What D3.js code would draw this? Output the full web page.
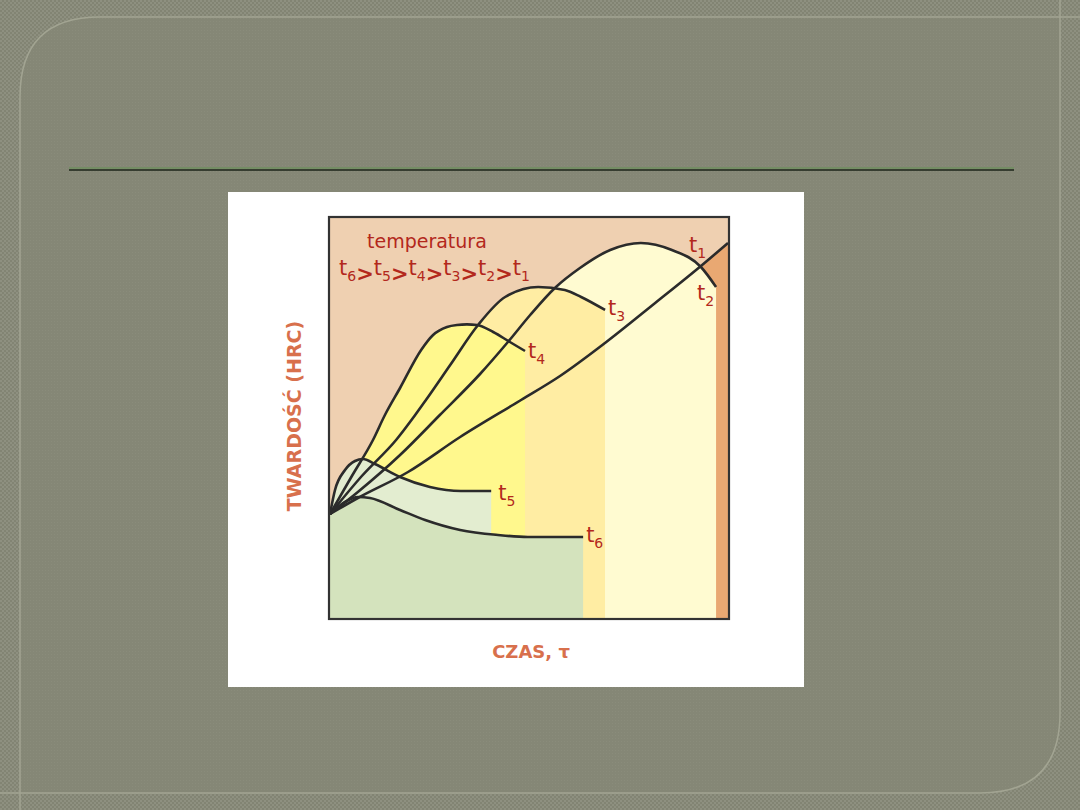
<!DOCTYPE html>
<html><head><meta charset="utf-8">
<script src="https://cdn.jsdelivr.net/npm/d3@7/dist/d3.min.js"></script>
<style>html,body{margin:0;padding:0;background:#858776;}svg{display:block;}</style>
</head><body>
<svg id="c" width="1080" height="810"></svg>
<script>
// ---- data (time in % of axis, hardness in % of axis) ----
const seriesNames = ["t1","t2","t3","t4","t5","t6"];
const t1 = [[0,26],[7.0,30],[19.6,36.5],[32.7,45.25],[48.0,54.5],[57.8,60.5],[69.1,68.75],[81.7,78.75],[93.2,88],[100,93.75]];
const t2 = [[0,26],[7.0,31.5],[17.6,40.75],[27.6,50.75],[37.7,61],[44.7,69],[50.3,75.75],[56.5,82.5],[62.8,87.5],[70.4,92],[78.1,93.75],[85.9,92],[93.2,87.75],[97.0,82.75]];
const t3 = [[0,26],[8.0,35.5],[16.6,44.5],[21.4,50.75],[24.1,54.5],[30.2,63.25],[37.2,73.25],[44.0,80.25],[52.3,82.75],[59.0,82],[63.1,80.25],[69.1,77]];
const t4 = [[0,26],[5.5,35.5],[10.8,44.5],[13.8,50.75],[17.6,57.5],[22.9,67],[25.9,70.75],[29.4,72.75],[31.9,73.25],[34.4,73.4],[36.9,73.25],[41.0,71.5],[45.2,69],[49.0,66.75]];
const t5 = [[0,26],[1.26,32],[3.77,37],[6.28,39.25],[8.29,39.75],[11.3,38.5],[17.6,35.25],[25.1,32.75],[32.9,31.75],[40.5,31.75]];
const t6 = [[0,26],[3.77,29],[7.04,30.25],[10.05,30],[17.6,27],[23.9,24.5],[32.7,22],[42.2,20.75],[49.7,20.25],[63.6,20.25]];
const seriesValues = [t1,t2,t3,t4,t5,t6];
const labelSubs = ["1","2","3","4","5","6"];
const orderSubs = ["6","5","4","3","2","1"];
const titleText = "temperatura";
const yTitle = "TWARDOŚĆ (HRC)";
const xTitle = "CZAS, τ";

// ---- styles ----
const fills = ["#E9A872","#FFFBD1","#FFEDA3","#FFF88D","#E3EDD0","#D4E3BD"];
const labelOffsets = [[-39,9],[-19,13],[3,5],[3,7],[7,9],[3,5]];
const red = "#B3281C", coral = "#D8704C";

const svg = d3.select("#c");
const defs = svg.append("defs");
const pat = defs.append("pattern").attr("id","tex").attr("width",4).attr("height",4).attr("patternUnits","userSpaceOnUse");
pat.append("rect").attr("width",4).attr("height",4).attr("fill","#828473");
pat.append("rect").attr("width",2).attr("height",2).attr("fill","#8e9080");
pat.append("rect").attr("x",2).attr("y",2).attr("width",2).attr("height",2).attr("fill","#8e9080");
const pat2 = defs.append("pattern").attr("id","tex2").attr("width",3).attr("height",3).attr("patternUnits","userSpaceOnUse");
pat2.append("rect").attr("width",3).attr("height",3).attr("fill","#858776");
pat2.append("rect").attr("width",1).attr("height",1).attr("fill","#8a8c7b");

svg.append("rect").attr("width",1080).attr("height",810).attr("fill","url(#tex)");
// inner panel (intersection of the two rounded frames)
svg.append("path").attr("d","M20,810 V97 Q20,17 100,17 H1060 V713 Q1060,793 980,793 H20 Z").attr("fill","url(#tex2)");
svg.append("path").attr("d","M20,810 V97 Q20,17 100,17 H1080").attr("fill","none").attr("stroke","#a2a492").attr("stroke-width",1.5);
svg.append("path").attr("d","M1060,0 V713 Q1060,793 980,793 H0").attr("fill","none").attr("stroke","#a2a492").attr("stroke-width",1.5);
// header rule
svg.append("line").attr("x1",69).attr("x2",1014).attr("y1",168).attr("y2",168).attr("stroke","#6f8f5f").attr("stroke-width",1.3);
svg.append("line").attr("x1",69).attr("x2",1014).attr("y1",170).attr("y2",170).attr("stroke","#1c241a").attr("stroke-width",1.6);

// white card
svg.append("rect").attr("x",228).attr("y",192).attr("width",576).attr("height",495).attr("fill","#ffffff");

const x = d3.scaleLinear().domain([0,100]).range([330,728]);
const y = d3.scaleLinear().domain([0,100]).range([618,218]);

const g = svg.append("g");
g.append("rect").attr("x",330).attr("y",218).attr("width",398).attr("height",400).attr("fill","#EFD0B1");

const area = d3.area().x(d=>x(d[0])).y0(y(0)).y1(d=>y(d[1])).curve(d3.curveMonotoneX);
const line = d3.line().x(d=>x(d[0])).y(d=>y(d[1])).curve(d3.curveMonotoneX);

seriesValues.forEach((s,i)=>{
  g.append("path").attr("d",area(s)).attr("fill",fills[i]);
});
seriesValues.forEach((s,i)=>{
  g.append("path").attr("d",line(s)).attr("fill","none").attr("stroke","#2b2b2b").attr("stroke-width",2.6).attr("stroke-linejoin","round");
});

// frame
svg.append("rect").attr("x",329).attr("y",217).attr("width",400).attr("height",402).attr("fill","none").attr("stroke","#333333").attr("stroke-width",2.2);

// curve labels
seriesValues.forEach((s,i)=>{
  const e = s[s.length-1];
  const t = svg.append("text").attr("x",x(e[0])+labelOffsets[i][0]).attr("y",y(e[1])+labelOffsets[i][1])
    .attr("font-family","DejaVu Sans").attr("fill",red).attr("font-size",21);
  t.append("tspan").text("t");
  t.append("tspan").attr("font-size",14).attr("dy",6).text(labelSubs[i]);
});

// legend text
svg.append("text").attr("x",367).attr("y",248).attr("font-family","DejaVu Sans").attr("font-size",19).attr("fill",red).text(titleText);
const lt = svg.append("text").attr("x",339).attr("y",275).attr("font-family","DejaVu Sans").attr("font-size",21).attr("fill",red);
orderSubs.forEach((d,i)=>{
  lt.append("tspan").attr("dy", i===0?0:-6).text("t");
  lt.append("tspan").attr("font-size",14).attr("dy",6).text(d);
  if(i<orderSubs.length-1) lt.append("tspan").attr("dy",-6).attr("font-weight","bold").text(">").attr("dy",0);
});

// axis titles
svg.append("text").attr("transform","translate(301,416) rotate(-90)").attr("text-anchor","middle")
  .attr("font-family","DejaVu Sans").attr("font-weight","bold").attr("font-size",19).attr("fill",coral).text(yTitle);
svg.append("text").attr("x",531).attr("y",658).attr("text-anchor","middle")
  .attr("font-family","DejaVu Sans").attr("font-weight","bold").attr("font-size",18).attr("fill",coral).text(xTitle);
</script>
</body></html>
